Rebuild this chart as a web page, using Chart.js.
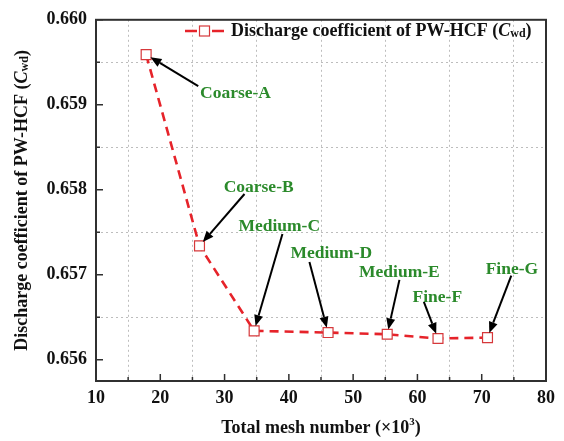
<!DOCTYPE html>
<html>
<head>
<meta charset="utf-8">
<script src="https://cdn.jsdelivr.net/npm/chart.js@4.4.1/dist/chart.umd.min.js"></script>
<style>
  html, body { margin: 0; padding: 0; background: #fff; }
</style>
</head>
<body>
<canvas id="chart" width="564" height="441"></canvas>
<script>
/* global Chart */

// grid-independence study: discharge coefficient vs. total mesh count
const meshNames = ['Coarse-A', 'Coarse-B', 'Medium-C', 'Medium-D', 'Medium-E', 'Fine-F', 'Fine-G']
const meshCount = [17.8, 26.1, 34.6, 46.1, 55.3, 63.2, 70.9] // x10^3 cells
const dischargeCoef = [0.65959, 0.65734, 0.65634, 0.65632, 0.65630, 0.65625, 0.65626]

const xTicks = [10, 20, 30, 40, 50, 60, 70, 80]
const xMinor = [15, 25, 35, 45, 55, 65, 75]
const yTicks = [0.656, 0.657, 0.658, 0.659, 0.660]
const yMinor = [0.6565, 0.6575, 0.6585, 0.6595]

// where each callout label sits and where its arrow starts (axis units)
const calloutLabel = [
  [31.7, 0.65915], [35.3, 0.65805], [38.5, 0.65758], [46.6, 0.65727],
  [57.2, 0.65704], [63.1, 0.65675], [74.7, 0.65708],
]
const calloutTail = [
  [25.9, 0.65922], [33.1, 0.65795], [39.0, 0.65748], [43.2, 0.65715],
  [57.2, 0.65694], [61.0, 0.65668], [74.6, 0.65699],
]

const SERIF = '"Liberation Serif", "Times New Roman", serif'
const RED = '#e6232a'
const MARK = '#d6383b'
const GREEN = '#2b8a2b'
const INK = '#303030'

const isIn = (list, v) => list.some(m => Math.abs(m - v) < 1e-9)

// draw a run of text pieces (font / vertical shift) centred on x
function richText(ctx, parts, x, y) {
  let total = 0
  parts.forEach(p => { ctx.font = p.font; p.w = ctx.measureText(p.text).width; total += p.w })
  let cx = x - total / 2
  ctx.textAlign = 'left'
  ctx.textBaseline = 'middle'
  parts.forEach(p => {
    ctx.font = p.font
    ctx.fillText(p.text, cx, y + (p.dy || 0))
    cx += p.w
  })
  return total
}

function arrow(ctx, x0, y0, x1, y1) {
  const ang = Math.atan2(y1 - y0, x1 - x0)
  const head = 11
  const half = 4.5
  const bx = x1 - head * Math.cos(ang)
  const by = y1 - head * Math.sin(ang)
  ctx.beginPath()
  ctx.moveTo(x0, y0)
  ctx.lineTo(bx, by)
  ctx.stroke()
  ctx.beginPath()
  ctx.moveTo(x1, y1)
  ctx.lineTo(bx + half * Math.sin(ang), by - half * Math.cos(ang))
  ctx.lineTo(bx - half * Math.sin(ang), by + half * Math.cos(ang))
  ctx.closePath()
  ctx.fill()
}

const titleParts = [
  {text: 'Discharge coefficient of PW-HCF (', font: `bold 18px ${SERIF}`},
  {text: 'C', font: `italic bold 18px ${SERIF}`},
  {text: 'wd', font: `bold 12px ${SERIF}`, dy: 3},
  {text: ')', font: `bold 18px ${SERIF}`},
]

const decorations = {
  id: 'decorations',
  afterDraw(chart) {
    const {ctx, chartArea: a, scales: {x, y}} = chart
    ctx.save()

    // frame
    ctx.strokeStyle = INK
    ctx.lineWidth = 2
    ctx.strokeRect(a.left, a.top, a.right - a.left, a.bottom - a.top)

    // inward ticks on bottom and left axes
    ctx.lineWidth = 1.5
    ctx.beginPath()
    xTicks.concat(xMinor).forEach(v => {
      const px = x.getPixelForValue(v)
      const len = isIn(xTicks, v) ? 7 : 4
      ctx.moveTo(px, a.bottom)
      ctx.lineTo(px, a.bottom - len)
    })
    yTicks.concat(yMinor).forEach(v => {
      const py = y.getPixelForValue(v)
      const len = isIn(yTicks, v) ? 7 : 4
      ctx.moveTo(a.left, py)
      ctx.lineTo(a.left + len, py)
    })
    ctx.stroke()

    // axis titles
    ctx.fillStyle = '#111'
    richText(ctx, [
      {text: 'Total mesh number (\u00d710', font: `bold 18px ${SERIF}`},
      {text: '3', font: `bold 11px ${SERIF}`, dy: -6},
      {text: ')', font: `bold 18px ${SERIF}`},
    ], (a.left + a.right) / 2, 428)

    ctx.save()
    ctx.translate(22, (a.top + a.bottom) / 2)
    ctx.rotate(-Math.PI / 2)
    richText(ctx, titleParts, 0, 0)
    ctx.restore()

    // legend
    const ly = 31
    ctx.strokeStyle = RED
    ctx.lineWidth = 2.6
    ctx.beginPath()
    ctx.moveTo(185, ly); ctx.lineTo(197, ly)
    ctx.moveTo(212, ly); ctx.lineTo(224, ly)
    ctx.stroke()
    ctx.fillStyle = '#fff'
    ctx.strokeStyle = MARK
    ctx.lineWidth = 1.2
    ctx.fillRect(199.5, ly - 5, 10, 10)
    ctx.strokeRect(199.5, ly - 5, 10, 10)
    ctx.fillStyle = '#111'
    let w = 0
    titleParts.forEach(p => { ctx.font = p.font; w += ctx.measureText(p.text).width })
    richText(ctx, titleParts, 231 + w / 2, ly)

    // callouts with arrows
    ctx.strokeStyle = '#000'
    ctx.fillStyle = '#000'
    ctx.lineWidth = 2
    meshCount.forEach((mx, i) => {
      const px = x.getPixelForValue(mx)
      const py = y.getPixelForValue(dischargeCoef[i])
      const tx = x.getPixelForValue(calloutTail[i][0])
      const ty = y.getPixelForValue(calloutTail[i][1])
      const d = Math.hypot(px - tx, py - ty)
      const stop = 5
      arrow(ctx, tx, ty, px + (tx - px) * stop / d, py + (ty - py) * stop / d)
    })
    ctx.fillStyle = GREEN
    ctx.font = `bold 17.5px ${SERIF}`
    ctx.textAlign = 'center'
    ctx.textBaseline = 'alphabetic'
    meshNames.forEach((name, i) => {
      ctx.fillText(name,
        x.getPixelForValue(calloutLabel[i][0]),
        y.getPixelForValue(calloutLabel[i][1]) + 6)
    })

    ctx.restore()
  },
}

const ctx = document.getElementById('chart').getContext('2d')
// eslint-disable-next-line no-unused-vars
const chart = new Chart(ctx, {
  type: 'line',
  data: {
    datasets: [{
      label: 'Discharge coefficient of PW-HCF (Cwd)',
      data: meshCount.map((m, i) => ({x: m, y: dischargeCoef[i]})),
      borderColor: RED,
      borderWidth: 2.6,
      borderDash: [9, 6],
      tension: 0,
      pointStyle: 'rect',
      pointRadius: 7,
      pointBorderWidth: 1.2,
      pointBorderColor: MARK,
      pointBackgroundColor: '#fff',
    }],
  },
  options: {
    responsive: false,
    animation: false,
    layout: {padding: {left: 0, right: 18, top: 15, bottom: 0}},
    plugins: {legend: {display: false}, tooltip: {enabled: false}},
    scales: {
      x: {
        type: 'linear',
        min: 10,
        max: 80,
        afterBuildTicks: s => { s.ticks = xTicks.concat(xMinor).sort((p, q) => p - q).map(v => ({value: v})) },
        afterFit: s => { s.height = 60 },
        border: {display: false, dash: [2, 3]},
        grid: {
          drawTicks: false,
          color: c => (c.tick && isIn(xMinor, c.tick.value) ? '#bdbdbd' : 'rgba(0,0,0,0)'),
          lineWidth: 1,
        },
        ticks: {
          autoSkip: false,
          maxRotation: 0,
          padding: 7,
          color: '#111',
          font: {family: SERIF, size: 18, weight: 'bold'},
          callback: v => (isIn(xTicks, v) ? String(v) : ''),
        },
      },
      y: {
        type: 'linear',
        min: 0.65575,
        max: 0.660,
        afterBuildTicks: s => { s.ticks = yTicks.concat(yMinor).sort((p, q) => p - q).map(v => ({value: v})) },
        afterFit: s => { s.width = 96 },
        border: {display: false, dash: [2, 3]},
        grid: {
          drawTicks: false,
          color: c => (c.tick && isIn(yMinor, c.tick.value) ? '#bdbdbd' : 'rgba(0,0,0,0)'),
          lineWidth: 1,
        },
        ticks: {
          autoSkip: false,
          padding: 9,
          color: '#111',
          font: {family: SERIF, size: 18, weight: 'bold'},
          callback: v => (isIn(yTicks, v) ? v.toFixed(3) : ''),
        },
      },
    },
  },
  plugins: [decorations],
})
</script>
</body>
</html>
